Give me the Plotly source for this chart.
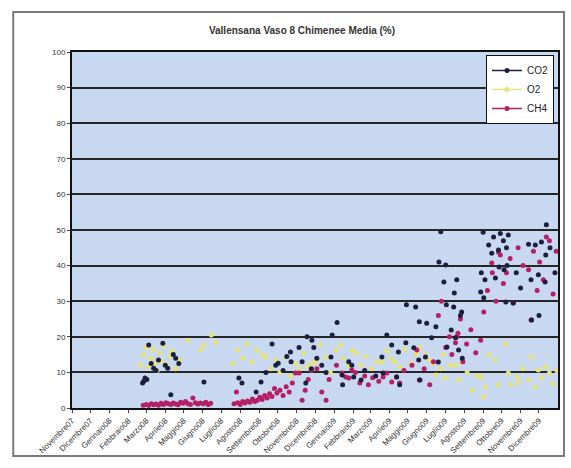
import plotly.graph_objects as go

# ---------------- data ----------------
month_ticks = ["2007-11-01","2007-12-01","2008-01-01","2008-02-01","2008-03-01","2008-04-01",
               "2008-05-01","2008-06-01","2008-07-01","2008-08-01","2008-09-01","2008-10-01",
               "2008-11-01","2008-12-01","2009-01-01","2009-02-01","2009-03-01","2009-04-01",
               "2009-05-01","2009-06-01","2009-07-01","2009-08-01","2009-09-01","2009-10-01",
               "2009-11-01","2009-12-01"]
month_labels = ["Novembre07","Dicembre07","Gennaio08","Febbraio08","Marzo08","Aprile08",
                "Maggio08","Giugno08","Luglio08","Agosto08","Settembre08","Ottobre08",
                "Novembre08","Dicembre08","Gennaio09","Febbraio09","Marzo09","Aprile09",
                "Maggio09","Giugno09","Luglio09","Agosto09","Settembre09","Ottobre09",
                "Novembre09","Dicembre09"]
y_ticks = [0, 10, 20, 30, 40, 50, 60, 70, 80, 90, 100]

co2_dates = ["2008-02-24","2008-02-26","2008-02-28","2008-03-02","2008-03-05","2008-03-09","2008-03-13",
             "2008-03-17","2008-03-21","2008-03-28","2008-04-01","2008-04-05","2008-04-10","2008-04-14",
             "2008-04-18","2008-04-23","2008-06-03","2008-07-30","2008-08-04","2008-08-27",
             "2008-09-04","2008-09-12","2008-09-22","2008-09-28","2008-10-02","2008-10-10","2008-10-16",
             "2008-10-22","2008-10-23","2008-11-05","2008-11-10","2008-11-16","2008-11-18","2008-11-25",
             "2008-11-26","2008-11-29","2008-12-04","2008-12-12","2008-12-19","2008-12-27","2008-12-29",
             "2009-01-06","2009-01-14","2009-01-15","2009-01-25","2009-01-30","2009-02-02","2009-02-14",
             "2009-02-20","2009-03-10","2009-03-20","2009-03-22","2009-03-28","2009-04-05","2009-04-13",
             "2009-04-16","2009-04-18","2009-04-28","2009-04-29","2009-05-11","2009-05-14","2009-05-19",
             "2009-05-20","2009-05-21","2009-05-30","2009-06-01","2009-06-09","2009-06-16","2009-06-20",
             "2009-06-21","2009-06-24","2009-06-29","2009-07-02","2009-07-03","2009-07-04","2009-07-11",
             "2009-07-15","2009-07-16","2009-07-18","2009-07-20","2009-07-23","2009-07-26","2009-07-28",
             "2009-07-29","2009-08-28","2009-08-29","2009-09-01","2009-09-02","2009-09-04","2009-09-10",
             "2009-09-15","2009-09-18","2009-09-21","2009-09-26","2009-09-27","2009-09-29","2009-10-04",
             "2009-10-05","2009-10-08","2009-10-09","2009-10-10","2009-10-12","2009-10-20","2009-10-25",
             "2009-11-01","2009-11-14","2009-11-18","2009-11-19","2009-11-25","2009-11-30","2009-12-01",
             "2009-12-05","2009-12-11","2009-12-12","2009-12-13","2009-12-19","2009-12-27"]
co2_values = [7.0,7.5,8.4,8.0,17.7,12.5,11.2,
              10.5,13.5,18.2,12.0,11.2,3.7,15.0,
              14.0,12.5,7.3,8.4,7.0,4.5,
              7.3,10.0,18.0,12.0,12.6,10.5,14.5,
              15.7,13.0,17.0,13.0,7.0,20.0,11.0,
              19.0,17.0,14.0,12.0,10.0,14.3,20.5,
              24.0,9.3,6.5,13.0,12.0,8.7,7.9,
              10.5,9.0,14.3,9.8,20.5,17.7,8.7,
              15.7,6.5,18.3,29.0,16.9,28.4,13.5,
              24.2,7.9,14.3,23.8,19.7,22.8,12.9,
              41.0,49.5,35.4,40.2,29.0,17.1,21.9,
              28.4,32.3,19.7,36.0,16.3,26.0,27.0,
              14.0,32.6,38.0,49.4,31.0,36.0,45.8,
              43.5,48.0,36.5,44.4,39.6,49.0,47.0,
              38.8,29.8,45.0,40.0,48.6,29.5,38.0,
              33.7,46.0,36.0,24.7,45.8,37.4,26.0,
              46.6,35.4,43.0,51.5,45.0,38.0]

o2_dates = ["2008-02-20","2008-02-25","2008-03-01","2008-03-04","2008-03-08","2008-03-12","2008-03-15",
            "2008-03-19","2008-03-22","2008-03-26","2008-03-30","2008-04-03","2008-04-08","2008-04-12",
            "2008-04-18","2008-04-24","2008-05-08","2008-05-28","2008-06-03","2008-06-15","2008-06-22",
            "2008-07-20","2008-07-28","2008-08-05","2008-08-12","2008-08-20","2008-08-28",
            "2008-09-05","2008-09-12","2008-09-20","2008-09-28","2008-10-05","2008-10-14","2008-10-22",
            "2008-10-30","2008-11-05","2008-11-12","2008-11-18","2008-11-25","2008-12-02","2008-12-10",
            "2008-12-18","2008-12-26","2009-01-04","2009-01-12","2009-01-15","2009-01-24","2009-01-30",
            "2009-02-06","2009-02-14","2009-02-22","2009-03-03","2009-03-12","2009-03-20","2009-03-28",
            "2009-04-03","2009-04-10","2009-04-18","2009-04-26","2009-05-06","2009-05-14","2009-05-22",
            "2009-05-30","2009-06-05","2009-06-12","2009-06-16","2009-06-24","2009-06-28","2009-07-02",
            "2009-07-10","2009-07-18","2009-07-23","2009-07-28","2009-08-06","2009-08-14","2009-08-22",
            "2009-08-29","2009-09-02","2009-09-05","2009-09-10","2009-09-20","2009-09-26","2009-10-08",
            "2009-10-12","2009-10-16","2009-10-26","2009-10-28","2009-11-05","2009-11-14","2009-11-18",
            "2009-11-25","2009-11-30","2009-12-05","2009-12-12","2009-12-18","2009-12-24","2009-12-30"]
o2_values = [12.0,15.0,17.0,11.5,14.0,16.5,12.5,
             10.5,15.5,13.0,17.5,12.0,14.5,16.0,
             11.0,13.5,19.0,16.3,17.7,20.5,18.5,
             12.5,16.3,14.0,18.0,13.0,16.3,
             15.0,14.3,11.0,13.5,10.0,14.3,9.0,
             12.6,11.0,15.4,11.5,12.6,12.9,17.7,
             14.3,10.0,16.3,17.7,14.0,12.0,16.3,
             15.4,12.0,14.5,11.0,13.0,12.9,16.0,
             14.0,12.9,11.5,16.5,12.6,15.0,17.0,
             14.9,13.5,12.6,9.3,11.0,15.0,8.4,
             12.0,12.0,7.9,12.9,10.0,5.0,9.0,
             8.7,3.0,5.9,15.0,13.5,6.5,18.0,
             9.8,6.5,8.7,7.0,11.0,7.9,14.3,
             5.9,10.7,8.4,11.5,9.8,6.8,10.5]

ch4_dates = ["2008-02-25","2008-03-01","2008-03-05","2008-03-09","2008-03-13","2008-03-17","2008-03-21",
             "2008-03-25","2008-03-29","2008-04-02","2008-04-06","2008-04-10","2008-04-14","2008-04-18",
             "2008-04-22","2008-04-26","2008-04-30","2008-05-04","2008-05-08","2008-05-12","2008-05-16",
             "2008-05-20","2008-05-24","2008-05-28","2008-06-02","2008-06-06","2008-06-10","2008-06-14",
             "2008-07-22","2008-07-26","2008-07-28","2008-08-01","2008-08-05","2008-08-09","2008-08-13",
             "2008-08-17","2008-08-21","2008-08-25","2008-08-29","2008-09-02","2008-09-06","2008-09-10",
             "2008-09-14","2008-09-18","2008-09-22","2008-09-26","2008-09-30","2008-10-05","2008-10-10",
             "2008-10-15","2008-10-20","2008-10-25","2008-10-30","2008-11-05","2008-11-10","2008-11-15",
             "2008-11-20","2008-11-25","2008-12-04","2008-12-12","2008-12-19","2008-12-24","2009-01-05",
             "2009-01-14","2009-01-20","2009-01-25","2009-01-30","2009-02-05","2009-02-12","2009-02-20",
             "2009-02-26","2009-03-05","2009-03-15","2009-03-22","2009-03-28","2009-04-05","2009-04-13",
             "2009-04-18","2009-04-25","2009-05-08","2009-05-16","2009-05-20","2009-05-28","2009-06-06",
             "2009-06-12","2009-06-20","2009-06-25","2009-07-02","2009-07-08","2009-07-12","2009-07-18",
             "2009-07-20","2009-07-22","2009-07-26","2009-07-30","2009-08-05","2009-08-12","2009-08-20",
             "2009-08-28","2009-09-02","2009-09-08","2009-09-15","2009-09-16","2009-09-22","2009-09-26",
             "2009-09-29","2009-10-04","2009-10-09","2009-10-15","2009-10-20","2009-10-28","2009-11-05",
             "2009-11-14","2009-11-18","2009-11-22","2009-11-28","2009-12-02","2009-12-08","2009-12-13",
             "2009-12-18","2009-12-24","2009-12-29"]
ch4_values = [0.8,1.0,0.7,1.2,0.9,1.1,0.8,
              1.3,1.0,1.5,1.2,1.0,1.4,1.1,
              0.9,1.6,1.3,1.8,1.2,1.0,2.8,
              1.5,1.1,1.4,1.2,1.6,1.0,1.3,
              1.2,4.5,1.5,1.0,1.8,1.4,2.0,
              1.6,2.5,1.8,2.2,3.0,2.4,3.5,
              2.8,4.0,3.2,5.5,4.2,5.0,3.5,
              6.0,4.5,7.0,9.8,9.8,2.2,5.0,
              8.0,10.5,11.0,4.5,2.2,8.0,12.0,
              9.8,8.7,8.4,10.7,10.0,7.0,9.0,
              6.5,8.5,7.5,8.7,9.8,7.3,8.7,
              7.0,10.5,12.0,16.3,7.9,11.0,6.5,
              13.0,26.0,30.0,17.0,20.0,15.0,18.3,
              20.0,21.0,25.0,13.0,18.0,22.0,15.5,
              19.0,27.0,33.0,40.7,38.0,30.0,43.8,
              43.0,35.0,38.0,42.0,29.5,45.0,40.0,
              38.8,24.7,44.0,33.0,41.0,36.0,48.0,
              47.0,32.0,44.0]

# ---------------- figure ----------------
FONT = "Liberation Sans, Arial, sans-serif"
C_CO2 = "#1c1f3d"
C_O2 = "#e4e27a"
C_CH4 = "#b51f63"

fig = go.Figure()
fig.add_trace(go.Scatter(x=o2_dates, y=o2_values, mode="markers", showlegend=False,
                         marker=dict(color=C_O2, size=5, line=dict(width=0))))
fig.add_trace(go.Scatter(x=ch4_dates, y=ch4_values, mode="markers", showlegend=False,
                         marker=dict(color=C_CH4, size=5, line=dict(width=0))))
fig.add_trace(go.Scatter(x=co2_dates, y=co2_values, mode="markers", showlegend=False,
                         marker=dict(color=C_CO2, size=5, line=dict(width=0))))

# legend entries
fig.add_trace(go.Scatter(x=[None], y=[None], mode="lines+markers", name="CO2",
                         line=dict(color=C_CO2, width=1.5), marker=dict(color=C_CO2, size=5)))
fig.add_trace(go.Scatter(x=[None], y=[None], mode="lines+markers", name="O2",
                         line=dict(color=C_O2, width=1.5), marker=dict(color=C_O2, size=5)))
fig.add_trace(go.Scatter(x=[None], y=[None], mode="lines+markers", name="CH4",
                         line=dict(color=C_CH4, width=1.5), marker=dict(color=C_CH4, size=5)))

L, R, T, B = 72, 11, 52, 60
W, H = 571, 468
pw, ph = W - L - R, H - T - B

def px_x(p):
    return (p - L) / pw

def px_y(p):
    return (H - B - p) / ph

fig.update_layout(
    width=W, height=H,
    margin=dict(l=L, r=R, t=T, b=B),
    paper_bgcolor="white",
    plot_bgcolor="#c9d8f1",
    font=dict(family=FONT, size=8, color="#333333"),
    title=dict(text="<b>Vallensana Vaso 8 Chimenee Media (%)</b>",
               x=302 / W, xref="container", xanchor="center",
               y=1 - 30 / H, yref="container", yanchor="middle",
               font=dict(family=FONT, size=10, color="#333333")),
    showlegend=True,
    legend=dict(x=px_x(556), y=px_y(55), xanchor="right", yanchor="top",
                bgcolor="white", bordercolor="#111111", borderwidth=1,
                font=dict(family=FONT, size=10, color="#222222"),
                itemwidth=30, tracegroupgap=0),
    xaxis=dict(type="date", range=["2007-11-01", "2010-01-01"],
               tickvals=month_ticks, ticktext=month_labels, tickangle=-45,
               showgrid=False, zeroline=False,
               showline=True, linecolor="#111111", linewidth=2, mirror=True,
               ticks="outside", ticklen=3, tickcolor="#444444",
               tickfont=dict(family=FONT, size=8, color="#333333")),
    yaxis=dict(range=[0, 100], tickvals=y_ticks,
               showgrid=True, gridcolor="#262626", gridwidth=1.5, zeroline=False,
               showline=True, linecolor="#111111", linewidth=2, mirror=True,
               ticks="outside", ticklen=3, tickcolor="#444444",
               tickfont=dict(family=FONT, size=8, color="#333333")),
    shapes=[dict(type="rect", xref="paper", yref="paper",
                 x0=px_x(13), x1=px_x(566), y0=px_y(456), y1=px_y(12),
                 line=dict(color="#7a7a7a", width=2), fillcolor="rgba(0,0,0,0)", layer="below")],
)

fig.write_html("out.html", config={"displayModeBar": False},
               post_script="document.body.style.margin='0';document.body.style.overflow='hidden';")
